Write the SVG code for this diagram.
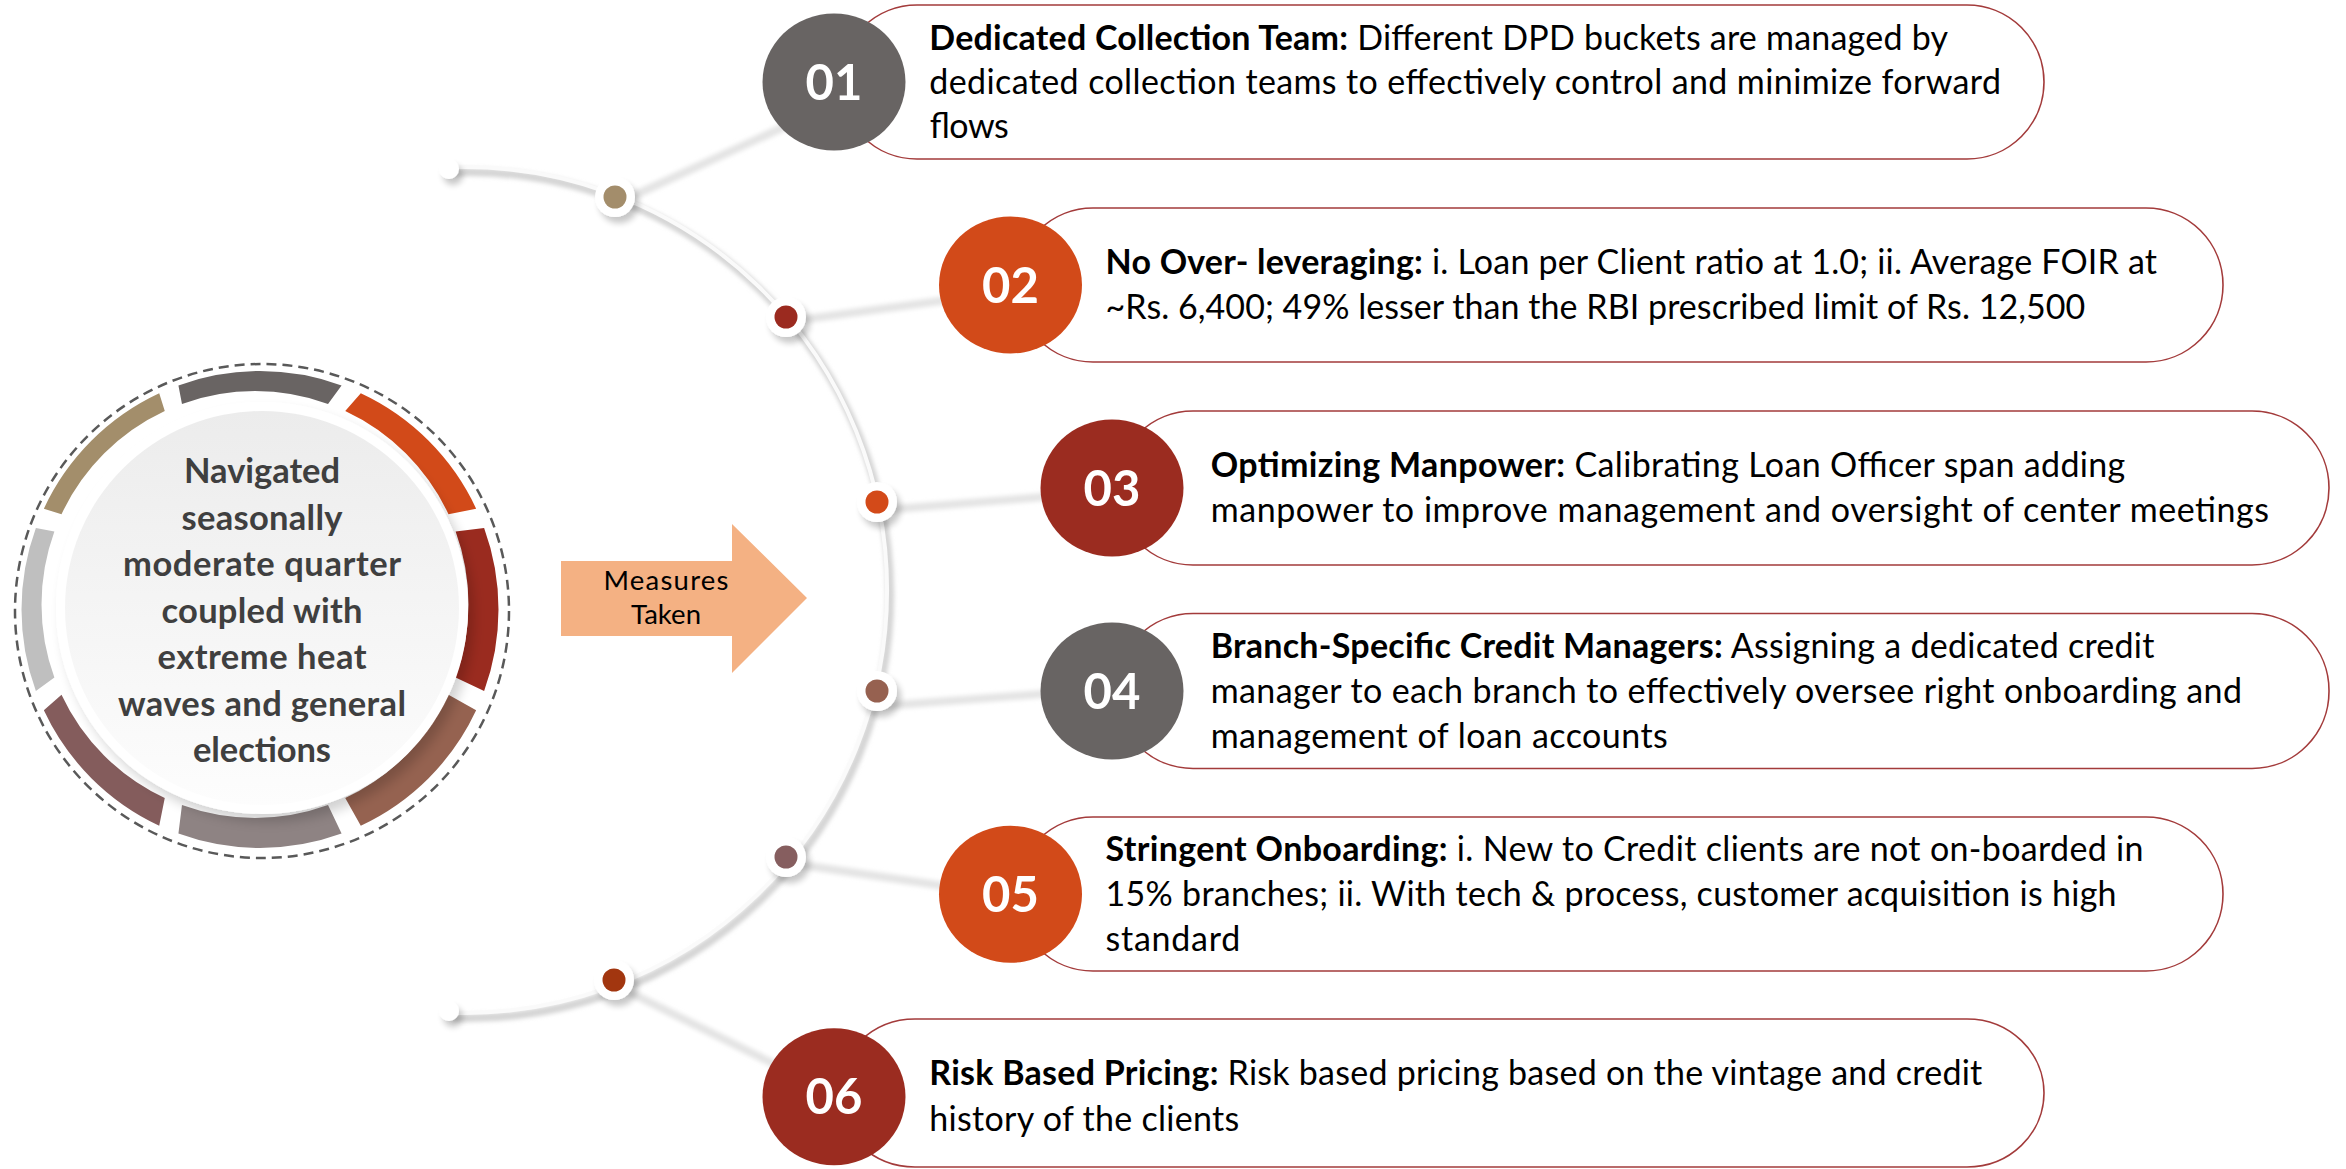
<svg xmlns="http://www.w3.org/2000/svg" width="2346" height="1169" viewBox="0 0 2346 1169">
<style>
.bx{fill:#ffffff;stroke:#a33b3b;stroke-width:1.6}
.num{font-family:Lato,"Liberation Sans",sans-serif;font-weight:bold;font-size:49px;fill:#ffffff;text-anchor:middle}
.t{font-family:Lato,"Liberation Sans",sans-serif;font-size:34px;fill:#000000}
.b{font-weight:bold}
.ct{font-family:Lato,"Liberation Sans",sans-serif;font-weight:bold;font-size:34.5px;fill:#3f3f3f;text-anchor:middle}
.at{font-family:Lato,"Liberation Sans",sans-serif;font-size:27.5px;fill:#000000;text-anchor:middle}
.ln{fill:none;stroke:#e4e4e4;stroke-width:8;stroke-linecap:round}
.ring{fill:#ffffff}
</style>
<defs>
<filter id="blur" filterUnits="userSpaceOnUse" x="0" y="0" width="2346" height="1169"><feGaussianBlur stdDeviation="2.2"/></filter>
<filter id="drop" x="-60%" y="-60%" width="220%" height="220%"><feGaussianBlur in="SourceAlpha" stdDeviation="3"/><feOffset dx="4" dy="6"/><feComponentTransfer><feFuncA type="linear" slope="0.22"/></feComponentTransfer><feMerge><feMergeNode/><feMergeNode in="SourceGraphic"/></feMerge></filter>
<filter id="dropBig" x="-20%" y="-20%" width="140%" height="140%"><feGaussianBlur in="SourceAlpha" stdDeviation="6"/><feOffset dx="6" dy="8"/><feComponentTransfer><feFuncA type="linear" slope="0.18"/></feComponentTransfer><feMerge><feMergeNode/><feMergeNode in="SourceGraphic"/></feMerge></filter>
<linearGradient id="disk" x1="0" y1="0" x2="0" y2="1"><stop offset="0" stop-color="#ececec"/><stop offset="1" stop-color="#fdfdfd"/></linearGradient>
</defs>
<rect width="2346" height="1169" fill="#ffffff"/>

<g id="connectors">
<path d="M449.24,167.26 A423,423 0 1 1 449.24,1012.74" fill="none" stroke="#d4d4d4" stroke-width="8" transform="translate(3,5)" filter="url(#blur)"/>
<path d="M449.24,167.26 A423,423 0 1 1 449.24,1012.74" fill="none" stroke="#fafafa" stroke-width="4"/>
<g filter="url(#blur)">
<line class="ln" x1="622" y1="201" x2="795" y2="122"/>
<line class="ln" x1="792" y1="321" x2="955" y2="299"/>
<line class="ln" x1="882" y1="510" x2="1055" y2="496"/>
<line class="ln" x1="882" y1="706" x2="1055" y2="693"/>
<line class="ln" x1="795" y1="864" x2="965" y2="889"/>
<line class="ln" x1="625" y1="990" x2="800" y2="1077"/>
</g>
</g>

<g id="arc-points">
<circle cx="449" cy="169" r="10" class="ring" filter="url(#drop)"/>
<circle cx="449" cy="1011" r="10" class="ring" filter="url(#drop)"/>
<g id="dot1"><circle cx="615" cy="197" r="20" class="ring" filter="url(#drop)"/><circle cx="615" cy="197" r="11.5" fill="#a38d6b"/></g>
<g id="dot2"><circle cx="786" cy="317" r="20" class="ring" filter="url(#drop)"/><circle cx="786" cy="317" r="11.5" fill="#9b2a1f"/></g>
<g id="dot3"><circle cx="877" cy="502" r="20" class="ring" filter="url(#drop)"/><circle cx="877" cy="502" r="11.5" fill="#d34a19"/></g>
<g id="dot4"><circle cx="877" cy="691" r="20" class="ring" filter="url(#drop)"/><circle cx="877" cy="691" r="11.5" fill="#966150"/></g>
<g id="dot5"><circle cx="786" cy="857" r="20" class="ring" filter="url(#drop)"/><circle cx="786" cy="857" r="11.5" fill="#865e5f"/></g>
<g id="dot6"><circle cx="614" cy="980" r="20" class="ring" filter="url(#drop)"/><circle cx="614" cy="980" r="11.5" fill="#a2360f"/></g>
</g>

<g id="center-node">
<circle cx="262" cy="611" r="247" fill="none" stroke="#595959" stroke-width="2.5" stroke-dasharray="10 6"/>
<path d="M178.43,385.38 A238.5,238.5 0 0 1 341.57,385.38 L328.02,403.88 A213.5,213.5 0 0 0 181.98,403.88 Z" fill="#696463"/>
<path d="M360.79,393.35 A238.5,238.5 0 0 1 476.15,508.71 L448.5,514.27 A213.5,213.5 0 0 0 345.23,411 Z" fill="#d24a19"/>
<path d="M484.12,527.93 A238.5,238.5 0 0 1 484.12,691.07 L455.62,677.52 A213.5,213.5 0 0 0 455.62,531.48 Z" fill="#9a2b1f"/>
<path d="M476.15,710.29 A238.5,238.5 0 0 1 360.79,825.65 L345.23,798 A213.5,213.5 0 0 0 448.5,694.73 Z" fill="#956250"/>
<path d="M341.57,833.62 A238.5,238.5 0 0 1 178.43,833.62 L181.98,805.12 A213.5,213.5 0 0 0 328.02,805.12 Z" fill="#8e8383"/>
<path d="M159.21,825.65 A238.5,238.5 0 0 1 43.85,710.29 L61.5,694.73 A213.5,213.5 0 0 0 164.77,798 Z" fill="#845c5c"/>
<path d="M35.88,691.07 A238.5,238.5 0 0 1 35.88,527.93 L54.38,531.48 A213.5,213.5 0 0 0 54.38,677.52 Z" fill="#bfbfbf"/>
<path d="M43.85,508.71 A238.5,238.5 0 0 1 159.21,393.35 L164.77,411 A213.5,213.5 0 0 0 61.5,514.27 Z" fill="#a38e6b"/>
<circle cx="262" cy="608" r="206" fill="#ffffff" filter="url(#dropBig)"/>
<circle cx="262" cy="608" r="197" fill="url(#disk)"/>
<text class="ct" x="262" y="483" textLength="156">Navigated</text>
<text class="ct" x="262" y="529.5" textLength="161">seasonally</text>
<text class="ct" x="262" y="576" textLength="278">moderate quarter</text>
<text class="ct" x="262" y="622.5" textLength="201">coupled with</text>
<text class="ct" x="262" y="669" textLength="209">extreme heat</text>
<text class="ct" x="262" y="715.5" textLength="288">waves and general</text>
<text class="ct" x="262" y="762" textLength="138">elections</text>
</g>

<g id="arrow">
<polygon points="561,561 732,561 732,524 807,598 732,673 732,636 561,636" fill="#f4b183"/>
<text class="at" x="666" y="590" textLength="125">Measures</text>
<text class="at" x="666" y="624" textLength="70">Taken</text>
</g>

<g id="item-01">
<rect class="bx" x="840" y="5" width="1204" height="154" rx="77" ry="77"/>
<ellipse cx="834" cy="82" rx="71.5" ry="68.5" fill="#686463"/>
<text class="num" x="834" y="99.5">01</text>
<text class="t" x="929.3" y="50" textLength="1018.7"><tspan class="b">Dedicated Collection Team:</tspan> Different DPD buckets are managed by</text>
<text class="t" x="929.3" y="94" textLength="1071.7">dedicated collection teams to effectively control and minimize forward</text>
<text class="t" x="929.3" y="138.3" textLength="79">flows</text>
</g>

<g id="item-02">
<rect class="bx" x="1016" y="208" width="1207" height="154" rx="77" ry="77"/>
<ellipse cx="1010.5" cy="285" rx="71.5" ry="68.5" fill="#d24a19"/>
<text class="num" x="1010.5" y="302.5">02</text>
<text class="t" x="1105.6" y="274" textLength="1051.4"><tspan class="b">No Over- leveraging:</tspan> i. Loan per Client ratio at 1.0; ii. Average FOIR at</text>
<text class="t" x="1105.6" y="319" textLength="979.7">~Rs. 6,400; 49% lesser than the RBI prescribed limit of Rs. 12,500</text>
</g>

<g id="item-03">
<rect class="bx" x="1116" y="411" width="1213" height="154" rx="77" ry="77"/>
<ellipse cx="1112" cy="488" rx="71.5" ry="68.5" fill="#9b2c20"/>
<text class="num" x="1112" y="505.5">03</text>
<text class="t" x="1210.7" y="477" textLength="914.6"><tspan class="b">Optimizing Manpower:</tspan> Calibrating Loan Officer span adding</text>
<text class="t" x="1210.7" y="522" textLength="1058.3">manpower to improve management and oversight of center meetings</text>
</g>

<g id="item-04">
<rect class="bx" x="1116" y="613.5" width="1213" height="155" rx="77" ry="77"/>
<ellipse cx="1112" cy="691" rx="71.5" ry="68.5" fill="#686463"/>
<text class="num" x="1112" y="708.5">04</text>
<text class="t" x="1210.7" y="658.3" textLength="943.8"><tspan class="b">Branch-Specific Credit Managers:</tspan> Assigning a dedicated credit</text>
<text class="t" x="1210.7" y="703.3" textLength="1031.3">manager to each branch to effectively oversee right onboarding and</text>
<text class="t" x="1210.7" y="748.3" textLength="457.1">management of loan accounts</text>
</g>

<g id="item-05">
<rect class="bx" x="1016" y="817" width="1207" height="154" rx="77" ry="77"/>
<ellipse cx="1010.5" cy="894.3" rx="71.5" ry="68.5" fill="#d24a19"/>
<text class="num" x="1010.5" y="911.8">05</text>
<text class="t" x="1105.6" y="860.7" textLength="1038"><tspan class="b">Stringent Onboarding:</tspan> i. New to Credit clients are not on-boarded in</text>
<text class="t" x="1105.6" y="905.7" textLength="1011">15% branches; ii. With tech &amp; process, customer acquisition is high</text>
<text class="t" x="1105.6" y="950.7" textLength="134.6">standard</text>
</g>

<g id="item-06">
<rect class="bx" x="838" y="1019" width="1206" height="148" rx="77" ry="74"/>
<ellipse cx="834" cy="1096.7" rx="71.5" ry="68.5" fill="#9b2c20"/>
<text class="num" x="834" y="1114.2">06</text>
<text class="t" x="929.3" y="1085" textLength="1053"><tspan class="b">Risk Based Pricing:</tspan> Risk based pricing based on the vintage and credit</text>
<text class="t" x="929.3" y="1130.5" textLength="310">history of the clients</text>
</g>
</svg>
